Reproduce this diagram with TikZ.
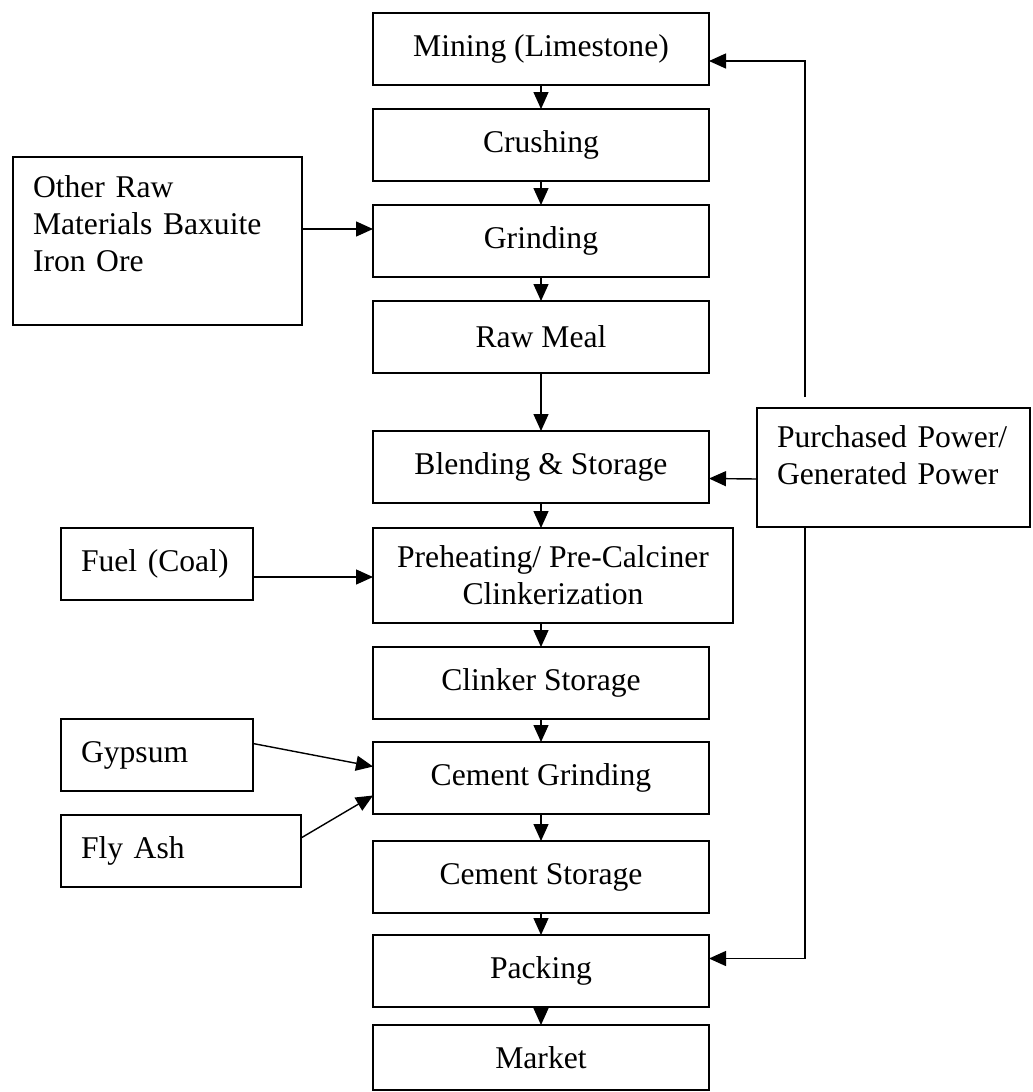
\documentclass[tikz,border=0pt]{standalone}
\usepackage{fontspec}
\setmainfont{Liberation Serif}
\usepackage{tikz}
\tikzstyle{stage}=[rectangle,draw=black,line width=0.8pt,outer sep=0pt,inner sep=2pt,
minimum width=6.72cm,minimum height=1.44cm,align=center]
\tikzstyle{source}=[rectangle,draw=black,line width=0.8pt,outer sep=0pt,
inner xsep=0.4cm,inner ysep=2pt,minimum height=1.44cm,align=left]
\tikzstyle{flow}=[->,line width=0.8pt]
\usetikzlibrary{arrows.meta,positioning}

\begin{document}
\begin{tikzpicture}[node distance=0.48cm, >={Triangle[length=0.34cm,width=0.3cm]},
                    font=\fontsize{18}{21}\selectfont]
            \useasboundingbox (0,0) rectangle (20.66,-21.84);

            % MAIN LINE

            \node[stage] (mining) at (10.82,-0.98) {Mining (Limestone)};
            \node[stage, below=of mining] (crushing) {Crushing};
            \node[stage, below=of crushing] (grinding) {Grinding};
            \node[stage, below=of grinding] (rawmeal) {Raw Meal};
            \node[stage, below=1.16cm of rawmeal] (blending) {Blending \& Storage};
            \node[stage, below=0.5cm of blending.south west, anchor=north west,
                  minimum width=7.2cm, minimum height=1.9cm] (preheat) {Preheating/ Pre-Calciner\\Clinkerization};
            \node[stage, below=0.48cm of preheat.south west, anchor=north west] (clinker) {Clinker Storage};
            \node[stage, below=0.46cm of clinker] (cgrinding) {Cement Grinding};
            \node[stage, below=0.54cm of cgrinding] (cstorage) {Cement Storage};
            \node[stage, below=0.44cm of cstorage] (packing) {Packing};
            \node[stage, below=0.36cm of packing, minimum height=1.3cm] (market) {Market};

            \path[flow] (mining) edge (crushing);
            \path[flow] (crushing) edge (grinding);
            \path[flow] (grinding) edge (rawmeal);
            \path[flow] (rawmeal) edge (blending);
            \path[flow] (blending.south) edge (blending.south |- preheat.north);
            \path[flow] (clinker.north |- preheat.south) edge (clinker.north);
            \path[flow] (clinker) edge (cgrinding);
            \path[flow] (cgrinding) edge (cstorage);
            \path[flow] (cstorage) edge (packing);
            \path[flow] (packing) edge (market);

            % INPUTS

            \node[source, left=1.42cm of grinding, text width=4.98cm, minimum height=3.36cm] (rawmat)
                  {Other Raw\\Materials Baxuite\\Iron Ore\rule[-0.7cm]{0pt}{0pt}};
            \node[source, left=2.4cm of preheat.north west, anchor=north east, text width=3.04cm] (fuel) {Fuel (Coal)};
            \node[source, left=2.4cm of clinker.south west, anchor=north east, text width=3.04cm] (gypsum) {Gypsum};
            \node[source, below=0.48cm of gypsum.south west, anchor=north west, text width=4.0cm] (flyash) {Fly Ash};

            \draw[flow] ([yshift=0.24cm]rawmat.east) -- ([yshift=0.24cm]grinding.west);
            \draw[flow] ([yshift=-0.26cm]fuel.east) -- ([yshift=-0.26cm]fuel.east -| preheat.west);
            \draw[flow] ([yshift=0.23cm]gypsum.east) -- ([yshift=0.23cm]cgrinding.west);
            \draw[flow] ([yshift=0.26cm]flyash.east) -- ([yshift=-0.35cm]cgrinding.west);

            % POWER

            \node[source, right=0.96cm of blending.north east, anchor=north west, yshift=0.46cm,
                  text width=4.66cm, minimum height=2.38cm] (power)
                  {Purchased Power/\\Generated Power\rule[-0.5cm]{0pt}{0pt}};

            \draw[flow, shorten <=0.22cm] ([xshift=0.96cm]power.north west) |- ([yshift=-0.24cm]mining.east);
            \draw[flow] ([yshift=-0.23cm]power.west) -- ([yshift=-0.23cm]blending.east);
            \draw[flow] ([xshift=0.96cm]power.south west) |- ([yshift=0.25cm]packing.east);

\end{tikzpicture}
\end{document}
